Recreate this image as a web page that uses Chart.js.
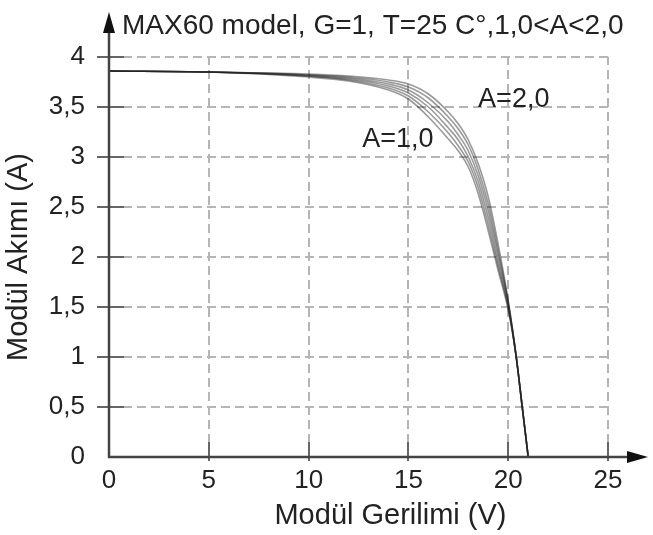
<!DOCTYPE html>
<html lang="tr">
<head>
<meta charset="UTF-8">
<title>MAX60 model I-V eğrileri</title>
<script src="https://cdn.jsdelivr.net/npm/chart.js@4.4.0/dist/chart.umd.min.js"></script>
<style>
    html, body { margin: 0; padding: 0; background: #fff; }
    #wrap { width: 653px; height: 535px; position: relative; }
</style>
</head>
<body>
<div id="wrap"><canvas id="chart"></canvas></div>
<script>
// Modül gerilimi (V) - ortak x değerleri
const voltage = [0, 5, 10, 12, 14, 15, 16, 17, 17.5, 18, 18.5, 19, 19.5, 20, 20.4, 20.7, 21];

// Modül akımı (A), her ideallik faktörü için
const currentA10 = [3.86, 3.85, 3.80, 3.76, 3.67, 3.58, 3.40, 3.18, 3.06, 2.90, 2.63, 2.26, 1.86, 1.47, 1.0, 0.5, 0];
const currentA12 = [3.86, 3.85, 3.81, 3.77, 3.69, 3.61, 3.45, 3.24, 3.11, 2.95, 2.69, 2.32, 1.90, 1.49, 1.0, 0.5, 0];
const currentA14 = [3.86, 3.85, 3.81, 3.78, 3.71, 3.64, 3.50, 3.29, 3.17, 3.00, 2.75, 2.39, 1.95, 1.51, 1.0, 0.5, 0];
const currentA16 = [3.86, 3.85, 3.82, 3.79, 3.73, 3.67, 3.54, 3.35, 3.22, 3.06, 2.81, 2.46, 2.01, 1.53, 1.0, 0.5, 0];
const currentA18 = [3.86, 3.85, 3.82, 3.80, 3.75, 3.70, 3.59, 3.40, 3.28, 3.12, 2.87, 2.53, 2.06, 1.55, 1.0, 0.5, 0];
const currentA20 = [3.86, 3.85, 3.83, 3.81, 3.77, 3.73, 3.63, 3.45, 3.33, 3.17, 2.93, 2.60, 2.12, 1.56, 1.0, 0.5, 0];

const seriesNames = ['A=1,0', 'A=1,2', 'A=1,4', 'A=1,6', 'A=1,8', 'A=2,0'];
const seriesValues = [currentA10, currentA12, currentA14, currentA16, currentA18, currentA20];

const xTicks = [0, 5, 10, 15, 20, 25];
const yTicks = [0, 0.5, 1, 1.5, 2, 2.5, 3, 3.5, 4];

const chartTitle = 'MAX60 model, G=1, T=25 C°,1,0<A<2,0';
const xTitle = 'Modül Gerilimi (V)';
const yTitle = 'Modül Akımı (A)';

const FONT = '"Liberation Sans", Arial, Helvetica, sans-serif';
const fmt = v => String(v).replace('.', ',');

// eksenler, oklar, kesikli ızgara ve yazılar
const axisPlugin = {
    id: 'axisPlugin',
    beforeDatasetsDraw(chart) {
        const { ctx, scales: { x, y } } = chart;
        const x0 = x.getPixelForValue(0), x25 = x.getPixelForValue(25);
        const y0 = y.getPixelForValue(0), y4 = y.getPixelForValue(4);
        ctx.save();
        ctx.strokeStyle = '#b5b5b5';
        ctx.lineWidth = 2;
        ctx.setLineDash([9, 5]);
        xTicks.forEach(v => {
            if (v === 0) return;
            const px = Math.round(x.getPixelForValue(v));
            ctx.beginPath(); ctx.moveTo(px, y0); ctx.lineTo(px, y4); ctx.stroke();
        });
        yTicks.forEach(v => {
            if (v === 0) return;
            const py = Math.round(y.getPixelForValue(v));
            ctx.beginPath(); ctx.moveTo(x0, py); ctx.lineTo(x25, py); ctx.stroke();
        });
        ctx.restore();
    },
    afterDatasetsDraw(chart) {
        const { ctx, chartArea, scales: { x, y } } = chart;
        const x0 = x.getPixelForValue(0);
        const y0 = y.getPixelForValue(0);
        ctx.save();
        // tick marks
        ctx.strokeStyle = '#666';
        ctx.lineWidth = 2;
        yTicks.forEach(v => {
            if (v === 0) return;
            const py = Math.round(y.getPixelForValue(v));
            ctx.beginPath(); ctx.moveTo(x0 - 12, py); ctx.lineTo(x0 + 15, py); ctx.stroke();
        });
        xTicks.forEach(v => {
            if (v === 0) return;
            const px = Math.round(x.getPixelForValue(v));
            ctx.beginPath(); ctx.moveTo(px, y0 - 15); ctx.lineTo(px, y0 + 4); ctx.stroke();
        });
        // axes
        ctx.strokeStyle = '#444';
        ctx.lineWidth = 2.5;
        ctx.beginPath();
        ctx.moveTo(x0, chartArea.top + 14); ctx.lineTo(x0, y0); ctx.lineTo(chartArea.right - 14, y0);
        ctx.stroke();
        ctx.fillStyle = '#111';
        ctx.beginPath();
        ctx.moveTo(x0, chartArea.top); ctx.lineTo(x0 - 6, chartArea.top + 21); ctx.lineTo(x0 + 6, chartArea.top + 21);
        ctx.closePath(); ctx.fill();
        ctx.beginPath();
        ctx.moveTo(chartArea.right, y0); ctx.lineTo(chartArea.right - 21, y0 - 6); ctx.lineTo(chartArea.right - 21, y0 + 6);
        ctx.closePath(); ctx.fill();

        // texts
        ctx.fillStyle = '#222';
        ctx.textBaseline = 'alphabetic';
        ctx.textAlign = 'left';
        ctx.font = '28px ' + FONT;
        ctx.fillText(chartTitle, x0 + 13, chartArea.top + 22);
        ctx.font = '27px ' + FONT;
        ctx.fillText(seriesNames[5], x.getPixelForValue(18.49), y.getPixelForValue(3.5));
        ctx.fillText(seriesNames[0], x.getPixelForValue(12.68), y.getPixelForValue(3.1));
        ctx.textAlign = 'center';
        ctx.font = '29px ' + FONT;
        ctx.fillText(xTitle, x.getPixelForValue(14.1), 524);
        ctx.translate(19, y.getPixelForValue(2));
        ctx.rotate(-Math.PI / 2);
        ctx.textBaseline = 'middle';
        ctx.font = '29px ' + FONT;
        ctx.fillText(yTitle, 0, 0);
        ctx.restore();
    }
};

const datasets = seriesValues.map((vals, i) => ({
    label: seriesNames[i],
    data: voltage.map((v, j) => ({ x: v, y: vals[j] })),
    borderColor: 'rgba(30, 30, 30, 0.45)',
    borderWidth: 1.6,
    pointRadius: 0,
    showLine: true,
    fill: false,
    cubicInterpolationMode: 'monotone'
}));

const noPad = s => { s.paddingTop = 0; s.paddingBottom = 0; s.paddingLeft = 0; s.paddingRight = 0; };

new Chart(document.getElementById('chart'), {
    type: 'scatter',
    data: { datasets },
    options: {
        responsive: true,
        maintainAspectRatio: false,
        animation: false,
        layout: { padding: { top: 12, right: 5, left: 0, bottom: 0 } },
        plugins: {
            legend: { display: false },
            tooltip: { enabled: false },
            title: { display: false }
        },
        scales: {
            x: {
                type: 'linear',
                min: 0,
                max: 27,
                afterBuildTicks: s => { s.ticks = xTicks.map(v => ({ value: v })); },
                afterFit: s => { s.height = 78; noPad(s); },
                grid: { display: false, drawTicks: false },
                border: { display: false },
                ticks: { color: '#222', font: { family: FONT, size: 26 }, padding: 8, maxRotation: 0, callback: v => fmt(v) }
            },
            y: {
                type: 'linear',
                min: 0,
                max: 4.45,
                afterBuildTicks: s => { s.ticks = yTicks.map(v => ({ value: v })); },
                afterFit: s => { s.width = 109; noPad(s); },
                grid: { display: false, drawTicks: false },
                border: { display: false },
                ticks: { color: '#222', font: { family: FONT, size: 26 }, padding: 24, callback: v => fmt(v) }
            }
        }
    },
    plugins: [axisPlugin]
});
</script>
</body>
</html>
